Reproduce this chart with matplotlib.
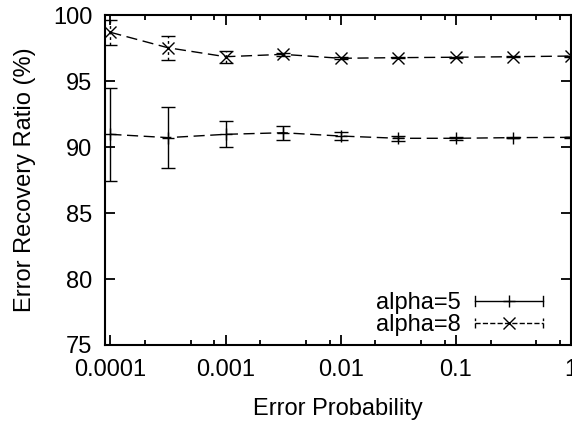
import numpy as np
import matplotlib
matplotlib.use('Agg')
import matplotlib.pyplot as plt
from matplotlib.lines import Line2D
from matplotlib.legend_handler import HandlerBase
from matplotlib.ticker import FixedLocator, FixedFormatter, NullLocator

plt.rcParams['font.family'] = ['Liberation Sans', 'DejaVu Sans']

# ---------- datos ----------
prob = [1e-4, 3.16e-4, 1e-3, 3.16e-3, 1e-2, 3.16e-2, 0.1, 0.316, 1.0]

alpha5 = [90.96, 90.71, 90.96, 91.08, 90.83, 90.66, 90.66, 90.71, 90.73]
alpha5_err = [3.53, 2.30, 0.99, 0.54, 0.28, 0.20, 0.10, 0.05, 0.04]

alpha8 = [98.69, 97.52, 96.84, 97.02, 96.72, 96.77, 96.80, 96.84, 96.89]
alpha8_err = [0.96, 0.91, 0.45, 0.12, 0.08, 0.06, 0.05, 0.04, 0.04]

xticks = [1e-4, 1e-3, 1e-2, 0.1, 1.0]
xtick_labels = ['0.0001', '0.001', '0.01', '0.1', '1']
yticks = [75, 80, 85, 90, 95, 100]


# ---------- leyenda estilo gnuplot (linea con topes y marcador) ----------
class ErrBarHandler(HandlerBase):
    def create_artists(self, legend, orig_handle, xdescent, ydescent,
                       width, height, fontsize, trans):
        y = (height - ydescent) / 2.0
        x0, x1 = -xdescent, width - xdescent
        ls = orig_handle.get_linestyle()
        cap = 3.6
        arts = [Line2D([x0, x1], [y, y], ls=ls, lw=1, color='black')]
        for xc in (x0, x1):
            arts.append(Line2D([xc, xc], [y - cap, y + cap], ls=ls, lw=1, color='black'))
        arts.append(Line2D([(x0 + x1) / 2], [y], ls='none',
                           marker=orig_handle.get_marker(), ms=orig_handle.get_markersize(),
                           mew=1, color='black'))
        for a in arts:
            a.set_transform(trans)
        return arts


fig = plt.figure(figsize=(5.72, 4.21), dpi=100)
ax = fig.add_axes([105 / 572, 1 - 345 / 421, 466 / 572, 330 / 421])

dash = (0, (8, 4))

# alpha=5
ax.plot(prob, alpha5, ls=dash, lw=1, color='black')
eb5 = ax.errorbar(prob, alpha5, yerr=alpha5_err, fmt='+', ms=8, mew=1,
                  color='black', elinewidth=1, capsize=5, capthick=1)

# alpha=8
ax.plot(prob, alpha8, ls=dash, lw=1, color='black')
eb8 = ax.errorbar(prob, alpha8, yerr=alpha8_err, fmt='x', ms=8, mew=1,
                  color='black', elinewidth=1, capsize=5, capthick=1)
for lc in eb8[2]:
    lc.set_linestyle((0, (2, 2)))

ax.set_xscale('log')
ax.set_xlim(8.98e-5, 1.0)
ax.set_ylim(75, 100)

ax.xaxis.set_major_locator(FixedLocator(xticks))
ax.xaxis.set_major_formatter(FixedFormatter(xtick_labels))
minors = [m * d for d in [1e-4, 1e-3, 1e-2, 0.1] for m in (2, 5, 8)]
ax.xaxis.set_minor_locator(FixedLocator(minors))
ax.yaxis.set_major_locator(FixedLocator(yticks))
ax.yaxis.set_minor_locator(NullLocator())

ax.tick_params(which='both', direction='in', top=True, right=True,
               labelsize=17, width=1.3, color='black')
ax.tick_params(which='major', length=7)
ax.tick_params(which='minor', length=3.5)
ax.tick_params(axis='x', which='major', pad=10)
ax.tick_params(axis='y', which='major', pad=9)
for s in ax.spines.values():
    s.set_linewidth(1.5)

ax.set_xlabel('Error Probability', fontsize=17, labelpad=12)
ax.set_ylabel('Error Recovery Ratio (%)', fontsize=17, labelpad=12)

h5 = Line2D([], [], ls='-', marker='+', ms=8)
h8 = Line2D([], [], ls=(0, (2, 2)), marker='x', ms=8)
ax.legend([h5, h8], ['alpha=5', 'alpha=8'], handler_map={Line2D: ErrBarHandler()},
          loc='lower right', bbox_to_anchor=(1 - 28 / 466, 9 / 330), borderpad=0,
          frameon=False, markerfirst=False, fontsize=17, handlelength=2.9,
          handletextpad=0.6, labelspacing=0.0, borderaxespad=0)

fig.savefig('out.png', dpi=100)
